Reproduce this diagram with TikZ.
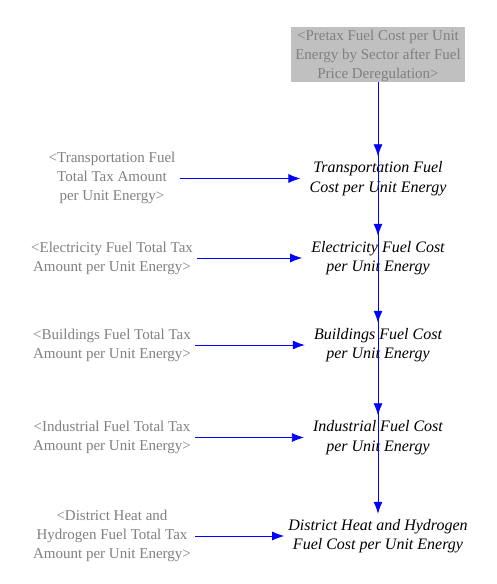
\documentclass[tikz,border=0pt]{standalone}
\usepackage{fontspec}
\setmainfont{Liberation Serif}
\usetikzlibrary{arrows.meta}
\definecolor{shadow}{HTML}{808080}
\definecolor{boxgray}{HTML}{C0C0C0}
\begin{document}
\begin{tikzpicture}[x=1pt,y=-1pt,
  base/.style={font=\fontsize{15}{19}\selectfont, align=center},
  shadowvar/.style={base, text=shadow, inner xsep=4, inner ysep=3},
  auxvar/.style={base, font=\fontsize{16}{19.5}\selectfont\itshape, inner xsep=9, inner ysep=5},
  gbox/.style={base, text=shadow, fill=boxgray, minimum width=174, minimum height=55, inner sep=1},
  link/.style={draw=blue, line width=0.8pt, -{Latex[length=12pt,width=9pt]}}
]
\useasboundingbox (0,0) rectangle (497,584);

\path (378,54.5) coordinate (prec);
\fill[boxgray] (291,27) rectangle (465,82);
\node[gbox, fill=none] (pre) at (378,56) {<Pretax Fuel Cost per Unit\\Energy by Sector after Fuel\\Price Deregulation>};

\node[auxvar] (t) at (378,178.5) {Transportation Fuel\\Cost per Unit Energy};
\node[auxvar] (e) at (378,258) {Electricity Fuel Cost\\per Unit Energy};
\node[auxvar] (b) at (378,345) {Buildings Fuel Cost\\per Unit Energy};
\node[auxvar] (i) at (378,437.5) {Industrial Fuel Cost\\per Unit Energy};
\node[auxvar, inner xsep=4] (d) at (378,536) {District Heat and Hydrogen\\Fuel Cost per Unit Energy};

\node[shadowvar] (tt) at (112,178) {<Transportation Fuel\\Total Tax Amount\\per Unit Energy>};
\node[shadowvar] (et) at (112,258) {<Electricity Fuel Total Tax\\Amount per Unit Energy>};
\node[shadowvar] (bt) at (112,345) {<Buildings Fuel Total Tax\\Amount per Unit Energy>};
\node[shadowvar] (it) at (112,437.5) {<Industrial Fuel Total Tax\\Amount per Unit Energy>};
\node[shadowvar] (dt) at (112,536) {<District Heat and\\Hydrogen Fuel Total Tax\\Amount per Unit Energy>};

\coordinate (pres) at (378,82);
\draw[link] (pres) -- (t.north);
\draw[link] (pres) -- (e.north);
\draw[link] (pres) -- (b.north);
\draw[link] (pres) -- (i.north);
\draw[link] (pres) -- (d.north);

\draw[link] (tt.east |- t.west) -- (t.west);
\draw[link] (et.east) -- (e.west);
\draw[link] (bt.east) -- (b.west);
\draw[link] (it.east) -- (i.west);
\draw[link] (dt.east) -- (d.west);
\end{tikzpicture}
\end{document}
